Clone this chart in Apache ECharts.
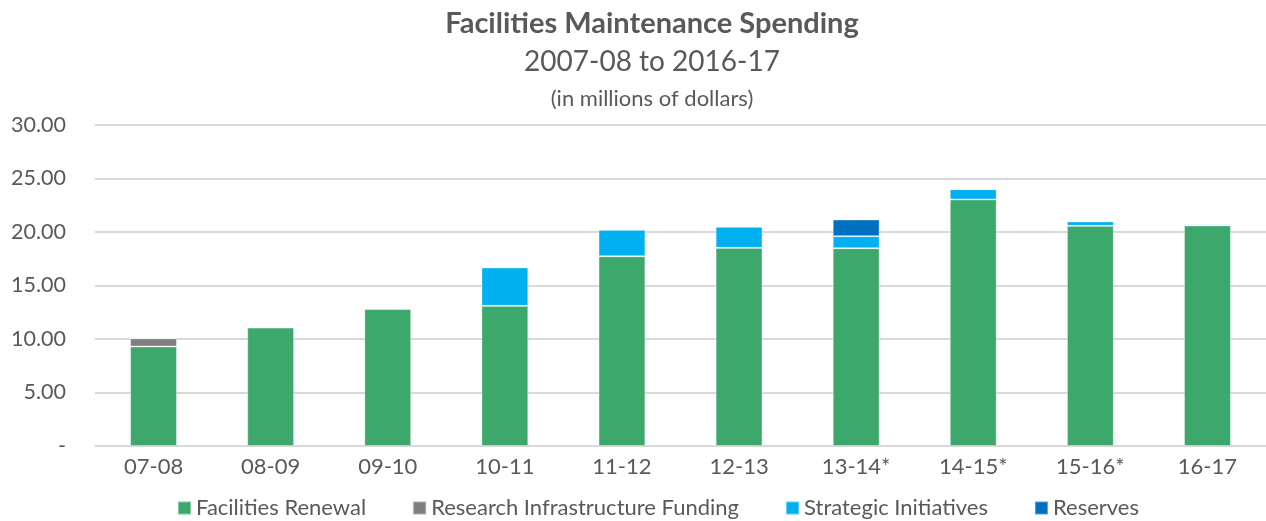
<!DOCTYPE html>
<html>
<head>
<meta charset="utf-8">
<script src="https://cdn.jsdelivr.net/npm/echarts@6/dist/echarts.min.js"></script>
<style>
  html, body { margin: 0; padding: 0; background: #fff; }
  #chart { width: 1266px; height: 521px; }
</style>
</head>
<body>
<div id="chart"></div>
<script>
const years = ['07-08', '08-09', '09-10', '10-11', '11-12', '12-13', '13-14*', '14-15*', '15-16*', '16-17'];
const facilitiesRenewal = [9.30, 11.07, 12.82, 13.10, 17.74, 18.52, 18.49, 23.04, 20.58, 20.61];
const researchInfra = [0.77, 0, 0, 0, 0, 0, 0, 0, 0, 0];
const strategicInitiatives = [0, 0, 0, 3.58, 2.47, 1.97, 1.12, 0.96, 0.40, 0.12];
const reserves = [0, 0, 0, 0, 0, 0, 1.56, 0, 0, 0];

const font = 'Lato, "Open Sans", sans-serif';
const textColor = '#595959';

const chart = echarts.init(document.getElementById('chart'));

const barSeries = (name, data, color) => ({
    name: name,
    type: 'bar',
    stack: 'total',
    barWidth: '40%',
    data: data,
    itemStyle: {
        color: color,
        borderColor: 'rgba(255,255,255,0.35)',
        borderWidth: 1
    }
});

chart.setOption({
    animation: false,
    title: [
        {
            text: 'Facilities Maintenance Spending',
            left: 647,
            textAlign: 'center',
            top: 4,
            textStyle: { fontFamily: font, fontSize: 29, fontWeight: 'bold', color: textColor }
        },
        {
            text: '2007-08 to 2016-17',
            left: 647,
            textAlign: 'center',
            top: 43,
            textStyle: { fontFamily: font, fontSize: 28, fontWeight: 'normal', color: textColor }
        },
        {
            text: '(in millions of dollars)',
            left: 647,
            textAlign: 'center',
            top: 83,
            textStyle: { fontFamily: font, fontSize: 22, fontWeight: 'normal', color: textColor }
        }
    ],
    grid: {
        left: 95,
        right: 0,
        top: 125,
        bottom: 75
    },
    legend: {
        top: 492,
        left: 172,
        itemWidth: 13,
        itemHeight: 13,
        itemGap: 46,
        icon: 'rect',
        textStyle: { fontFamily: font, fontSize: 22, color: textColor },
        data: ['Facilities Renewal', 'Research Infrastructure Funding', 'Strategic Initiatives', 'Reserves']
    },
    xAxis: {
        type: 'category',
        data: years,
        axisLine: { lineStyle: { color: '#d9d9d9', width: 1 } },
        axisTick: { show: false },
        axisLabel: { fontFamily: font, fontSize: 22, color: textColor, margin: 10 }
    },
    yAxis: {
        type: 'value',
        min: 0,
        max: 30,
        interval: 5,
        axisLine: { show: false },
        axisTick: { show: false },
        splitLine: { lineStyle: { color: '#d9d9d9', width: 2 } },
        axisLabel: {
            fontFamily: font,
            fontSize: 21.5,
            color: textColor,
            margin: 29,
            formatter: v => v === 0 ? '-' : v.toFixed(2)
        }
    },
    series: [
        barSeries('Facilities Renewal', facilitiesRenewal, '#3ca86b'),
        barSeries('Research Infrastructure Funding', researchInfra, '#7f7f7f'),
        barSeries('Strategic Initiatives', strategicInitiatives, '#00b0f0'),
        barSeries('Reserves', reserves, '#0070c0')
    ]
});
</script>
</body>
</html>
